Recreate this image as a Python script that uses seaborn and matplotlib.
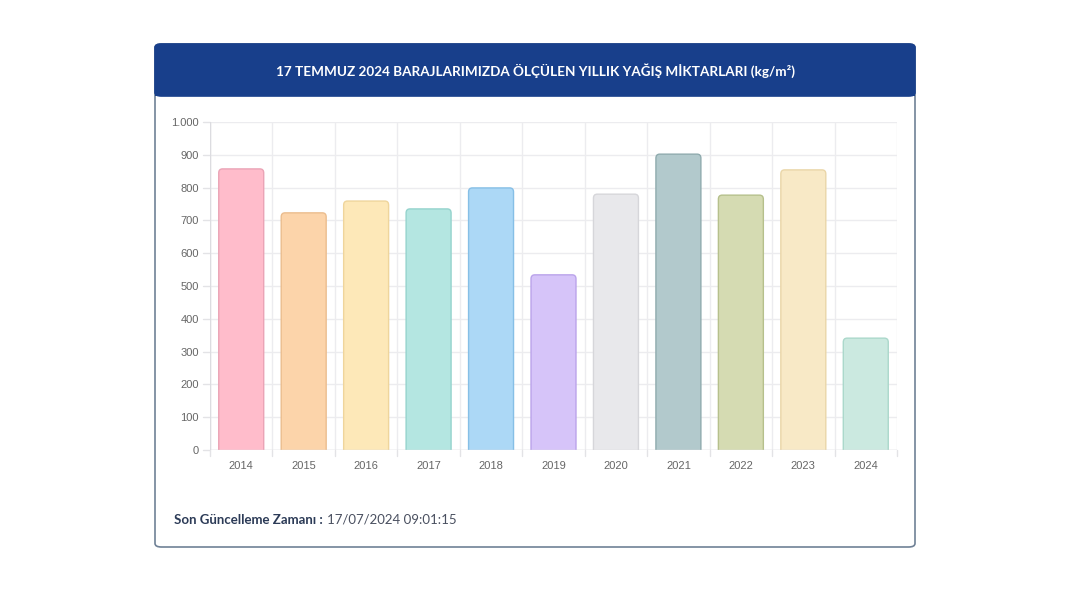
import matplotlib
matplotlib.use("Agg")
import matplotlib.pyplot as plt
from matplotlib.patches import FancyBboxPatch, Rectangle
from matplotlib.ticker import FuncFormatter
import seaborn as sns

# data
years = ["2014", "2015", "2016", "2017", "2018", "2019", "2020", "2021", "2022", "2023", "2024"]
rainfall = [857, 723, 759, 735, 799, 534, 780, 902, 777, 854, 341]
fill_colors = ["#ffbccb", "#fcd4aa", "#fde8b8", "#b4e6e1", "#acd8f6", "#d6c4f9",
               "#e8e8eb", "#b2c9cc", "#d5dbb2", "#f8e9c6", "#cbe9e0"]
edge_colors = ["#eaa4b6", "#ebbd8e", "#efd59c", "#95d3cd", "#86bfe6", "#baa3ea",
               "#d6d6da", "#8fabae", "#b6c08c", "#ead6a8", "#abd8cb"]

title = "17 TEMMUZ 2024 BARAJLARIMIZDA ÖLÇÜLEN YILLIK YAĞIŞ MİKTARLARI (kg/m²)"
footer_label = "Son Güncelleme Zamanı :"
footer_value = "17/07/2024 09:01:15"

sns.set_theme(style="white")
plt.rcParams["font.family"] = ["Lato", "DejaVu Sans"]

W, H = 1068, 601
fig = plt.figure(figsize=(W / 100, H / 100), dpi=100)
fig.patch.set_facecolor("white")

# card and header (figure pixel coords -> fraction)
def fx(px):
    return px / W

def fy(py):
    return 1 - py / H

card = FancyBboxPatch((fx(155), fy(547)), fx(915) - fx(155), fy(44) - fy(547),
                      boxstyle="round,pad=0,rounding_size=0.006",
                      transform=fig.transFigure, facecolor="white",
                      edgecolor="#6f8196", linewidth=1.2, zorder=-3)
fig.patches.append(card)
header = FancyBboxPatch((fx(155), fy(96)), fx(915) - fx(155), fy(44) - fy(96),
                        boxstyle="round,pad=0,rounding_size=0.006",
                        transform=fig.transFigure, facecolor="#183f8b",
                        edgecolor="#183f8b", linewidth=1.2, zorder=-2)
fig.patches.append(header)
fig.patches.append(Rectangle((fx(155), fy(96)), fx(915) - fx(155), fy(80) - fy(96),
                             transform=fig.transFigure, facecolor="#183f8b",
                             edgecolor="none", zorder=-2))
fig.text(fx(536), fy(71), title, color="white", fontsize=9.7, fontweight="bold",
         ha="center", va="center", zorder=2)

# footer
t1 = fig.text(fx(174), fy(520), footer_label, color="#2c3b57", fontsize=9.5,
              fontweight="bold", ha="left", va="center")
fig.canvas.draw()
bb = t1.get_window_extent()
fig.text(bb.x1 / W + fx(4), fy(520), footer_value, color="#4a5060", fontsize=9.5,
         ha="left", va="center")

# chart
ax = fig.add_axes([fx(210), fy(450), fx(897) - fx(210), fy(122) - fy(450)])
sns.barplot(x=years, y=rainfall, hue=years, palette=fill_colors, legend=False,
            ax=ax, width=0.72, saturation=1)

# replace plain bars by rounded ones
bars = list(ax.patches)
aspect = 12.2 / 0.06
for i, p in enumerate(bars):
    x0, w, h = p.get_x(), p.get_width(), p.get_height()
    p.remove()
    rb = FancyBboxPatch((x0, -20), w, h + 20,
                        boxstyle="round,pad=0,rounding_size=0.06",
                        mutation_aspect=aspect, facecolor=fill_colors[i],
                        edgecolor=edge_colors[i], linewidth=1.0, zorder=3)
    ax.add_patch(rb)

ax.set_xlim(-0.5, len(years) - 0.5)
ax.set_ylim(0, 1000)
ax.set_yticks(range(0, 1001, 100))
ax.yaxis.set_major_formatter(FuncFormatter(lambda v, _: f"{int(v):,}".replace(",", ".")))
ax.set_xticks(range(len(years)))
ax.set_xticklabels(years)

# grid: horizontal at ticks, vertical at category boundaries
for v in range(0, 1001, 100):
    ax.axhline(v, color="#ececef", linewidth=1, zorder=1)
for k in range(len(years) + 1):
    ax.axvline(k - 0.5, color="#ececef", linewidth=1, zorder=1)
    ax.plot([k - 0.5, k - 0.5], [0, -18], color="#e3e3e6", linewidth=1,
            clip_on=False, zorder=1)
for v in range(0, 1001, 100):
    ax.plot([-0.5, -0.62], [v, v], color="#e3e3e6", linewidth=1, clip_on=False, zorder=1)

for s in ax.spines.values():
    s.set_visible(False)
ax.axhline(0, color="#dcdce0", linewidth=1, zorder=4)
ax.axvline(-0.5, color="#dcdce0", linewidth=1, zorder=1)
ax.tick_params(axis="both", length=0, labelsize=8, labelcolor="#666666")
ax.tick_params(axis="y", pad=8)
ax.tick_params(axis="x", pad=8)
for lbl in ax.get_xticklabels() + ax.get_yticklabels():
    lbl.set_fontfamily(["Liberation Sans", "DejaVu Sans"])
ax.set_xlabel("")
ax.set_ylabel("")
ax.set_facecolor("white")

fig.savefig("out.png", dpi=100, facecolor="white")
